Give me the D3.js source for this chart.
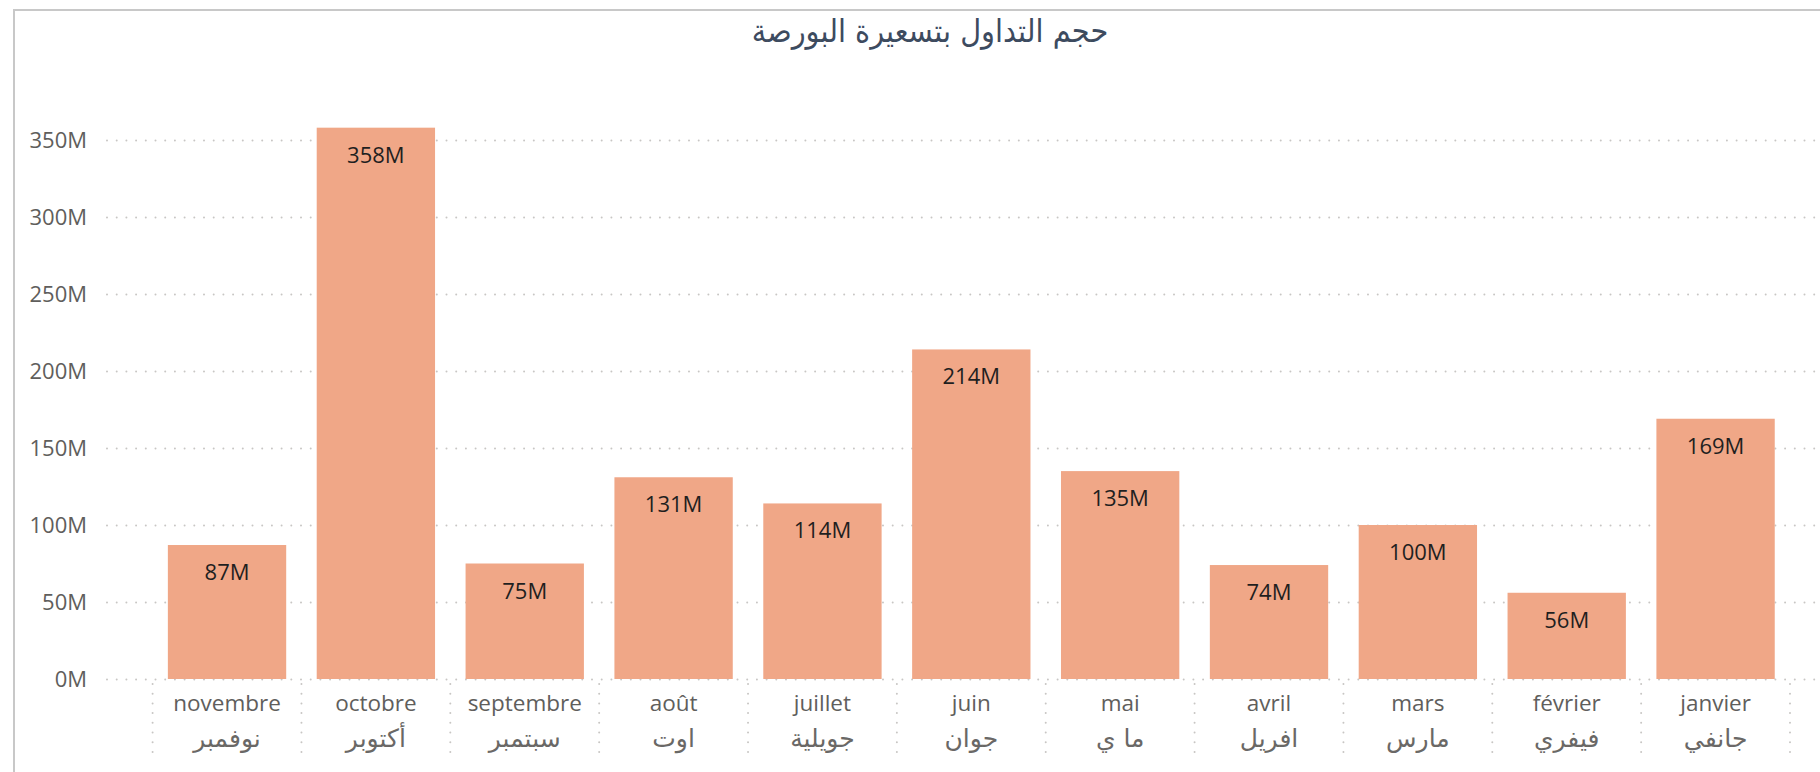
<!DOCTYPE html>
<html>
<head>
<meta charset="utf-8">
<script src="https://cdn.jsdelivr.net/npm/d3@7"></script>
<style>
  html, body { margin: 0; padding: 0; background: #fff; }
  svg { display: block; }
</style>
</head>
<body>
<script>
// data
const monthsFr = ["novembre", "octobre", "septembre", "août", "juillet", "juin", "mai", "avril", "mars", "février", "janvier"];
const monthsAr = ["نوفمبر", "أكتوبر", "سبتمبر", "اوت", "جويلية", "جوان", "ما ي", "افريل", "مارس", "فيفري", "جانفي"];
const volumes = [87, 358, 75, 131, 114, 214, 135, 74, 100, 56, 169];
const yTicks = [0, 50, 100, 150, 200, 250, 300, 350];
const title = "حجم التداول بتسعيرة البورصة";

const W = 1820, H = 772;
const gridLeft = 107, gridRight = W;
const plotTop = 140, plotBottom = 679;

const svg = d3.select("body").append("svg")
    .attr("width", W)
    .attr("height", H);

// frame lines
svg.append("line")
    .attr("x1", 13).attr("x2", W).attr("y1", 10).attr("y2", 10)
    .attr("stroke", "#c8c8c8").attr("stroke-width", 2);
svg.append("line")
    .attr("x1", 14).attr("x2", 14).attr("y1", 10).attr("y2", H)
    .attr("stroke", "#c8c8c8").attr("stroke-width", 2);

// title
svg.append("text")
    .text(title)
    .attr("x", 930)
    .attr("y", 42)
    .attr("text-anchor", "middle")
    .attr("direction", "rtl")
    .attr("font-family", "'DejaVu Sans Condensed', 'DejaVu Sans', sans-serif")
    .attr("font-size", "32px")
    .attr("fill", "#3d4b5f");

var x = d3.scaleBand()
    .domain(monthsFr)
    .range([152.6, 1790])
    .paddingInner(0.205)
    .paddingOuter(0.1025);

var y = d3.scaleLinear()
    .domain([0, 350])
    .range([plotBottom, plotTop]);

// horizontal dotted gridlines
var grid = svg.append("g")
    .attr("transform", "translate(" + gridLeft + ",0)")
    .call(d3.axisLeft(y).tickValues(yTicks).tickSize(-(gridRight - gridLeft)).tickFormat(""));
grid.select(".domain").remove();
grid.selectAll("line")
    .attr("stroke", "#c8c6c4")
    .attr("stroke-width", 2)
    .attr("stroke-linecap", "round")
    .attr("stroke-dasharray", "0,9.7");

// y axis labels
var yAxis = svg.append("g")
    .attr("transform", "translate(" + gridLeft + ",0)")
    .call(d3.axisLeft(y).tickValues(yTicks).tickSize(0).tickPadding(20).tickFormat(d => d + "M"));
yAxis.select(".domain").remove();
yAxis.selectAll("text")
    .attr("font-family", "'Open Sans', sans-serif")
    .attr("font-size", "22px")
    .attr("fill", "#605e5c");

// bars
svg.selectAll(".bar")
    .data(volumes)
    .enter().append("rect")
    .attr("class", "bar")
    .attr("fill", "#f0a787")
    .attr("x", (d, i) => x(monthsFr[i]))
    .attr("width", x.bandwidth())
    .attr("y", d => y(d))
    .attr("height", d => y(0) - y(d));

// data labels
svg.selectAll(".lbl")
    .data(volumes)
    .enter().append("text")
    .attr("class", "lbl")
    .text(d => d + "M")
    .attr("x", (d, i) => x(monthsFr[i]) + x.bandwidth() / 2)
    .attr("y", d => y(d) + 35)
    .attr("text-anchor", "middle")
    .attr("font-family", "'Open Sans', sans-serif")
    .attr("font-size", "22px")
    .attr("fill", "#1f1f1f");

// category separators below the axis
const step = x.step();
const x0 = x.range()[0];
svg.selectAll(".sep")
    .data(d3.range(monthsFr.length + 1))
    .enter().append("line")
    .attr("class", "sep")
    .attr("x1", i => x0 + i * step)
    .attr("x2", i => x0 + i * step)
    .attr("y1", 684)
    .attr("y2", 758)
    .attr("stroke", "#c8c6c4")
    .attr("stroke-width", 2)
    .attr("stroke-linecap", "round")
    .attr("stroke-dasharray", "0,9.7");

// x axis labels, two lines
var xLab = svg.selectAll(".xl")
    .data(monthsFr)
    .enter().append("g")
    .attr("class", "xl")
    .attr("transform", d => "translate(" + (x(d) + x.bandwidth() / 2) + ",0)");
xLab.append("text")
    .text(d => d)
    .attr("y", 711)
    .attr("text-anchor", "middle")
    .attr("font-family", "'Open Sans', sans-serif")
    .attr("font-size", "22.5px")
    .attr("fill", "#605e5c");
xLab.append("text")
    .text((d, i) => monthsAr[i])
    .attr("y", 747)
    .attr("text-anchor", "middle")
    .attr("direction", "rtl")
    .attr("font-family", "'DejaVu Sans', sans-serif")
    .attr("font-size", "25px")
    .attr("fill", "#6a6866");
</script>
</body>
</html>
